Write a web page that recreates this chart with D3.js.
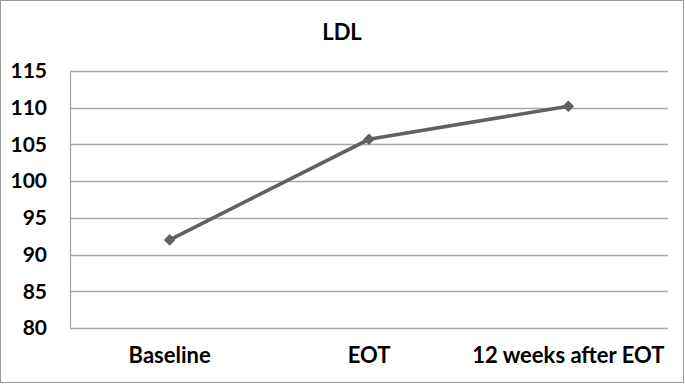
<!DOCTYPE html>
<html><head><meta charset="utf-8">
<script src="https://cdn.jsdelivr.net/npm/d3@7/dist/d3.min.js"></script>
<style>body{margin:0;background:#fff}svg{display:block}</style>
</head><body>
<svg id="c" width="685" height="384"></svg>
<script>
const categories = ["Baseline", "EOT", "12 weeks after EOT"];
const ldlValues = [92, 105.7, 110.2];
const yTicks = [80, 85, 90, 95, 100, 105, 110, 115];
const title = "LDL";

const svg = d3.select("#c");
const W = 685, H = 384;
const m = {left: 70, right: 17, top: 71, bottom: 56};
const font = "Lato, 'Open Sans', sans-serif";

svg.append("rect").attr("x", 0.5).attr("y", 0.5).attr("width", W - 2).attr("height", H - 2)
  .attr("fill", "#fff").attr("stroke", "#999").attr("stroke-width", 1);

const x = d3.scaleBand().domain(categories).range([m.left, W - m.right]);
const y = d3.scaleLinear().domain([80, 115]).range([H - m.bottom, m.top]);

// gridlines
svg.append("g").selectAll("line").data(yTicks).join("line")
  .attr("x1", m.left).attr("x2", W - m.right)
  .attr("y1", d => Math.round(y(d)) + 0.5).attr("y2", d => Math.round(y(d)) + 0.5)
  .attr("stroke", "#a6a6a6").attr("stroke-width", 1.3);

// y axis
const ya = svg.append("g").attr("transform", `translate(${m.left},0)`)
  .call(d3.axisLeft(y).tickValues(yTicks).tickSize(0).tickPadding(23));
ya.select(".domain").attr("stroke", "#a6a6a6").attr("stroke-width", 1.3);
ya.selectAll("text").attr("font-family", font).attr("font-weight", "bold")
  .attr("font-size", 21).attr("fill", "#000");

// x axis
const xa = svg.append("g").attr("transform", `translate(0,${H - m.bottom})`)
  .call(d3.axisBottom(x).tickSize(0).tickPadding(19));
xa.select(".domain").remove();
xa.selectAll("text").attr("font-family", font).attr("font-weight", "bold")
  .attr("font-size", 22).attr("fill", "#000");

// line
const pts = categories.map((c, i) => [x(c) + x.bandwidth() / 2, y(ldlValues[i])]);
svg.append("path").datum(pts).attr("d", d3.line())
  .attr("fill", "none").attr("stroke", "#616161").attr("stroke-width", 3.6);

svg.append("g").selectAll("path").data(pts).join("path")
  .attr("transform", d => `translate(${d[0]},${d[1]})`)
  .attr("d", d3.symbol(d3.symbolDiamond2, 85))
  .attr("fill", "#616161");

svg.append("text").attr("x", 342).attr("y", 40).attr("text-anchor", "middle")
  .attr("font-family", font).attr("font-weight", "bold").attr("font-size", 22)
  .attr("fill", "#000").text(title);
</script>
</body></html>
